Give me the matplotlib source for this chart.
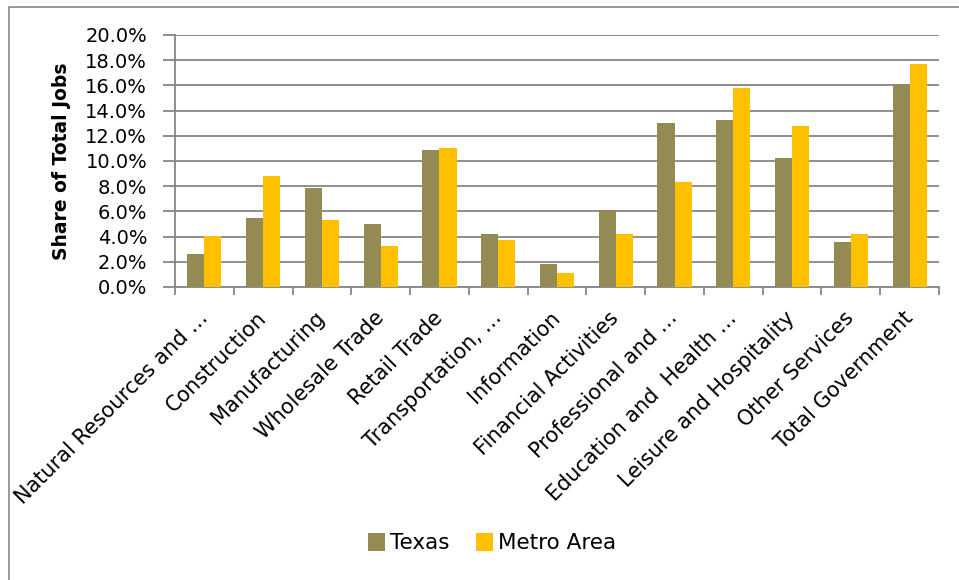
import numpy as np
import matplotlib
matplotlib.use('Agg')
import matplotlib.pyplot as plt
from matplotlib.patches import Rectangle

# ============================================================
# DATA (share of total jobs, %)
# ============================================================
categories = [
    "Natural Resources and \u2026", "Construction", "Manufacturing",
    "Wholesale Trade", "Retail Trade", "Transportation, \u2026",
    "Information", "Financial Activities", "Professional and \u2026",
    "Education and  Health \u2026", "Leisure and Hospitality",
    "Other Services", "Total Government",
]
texas = [2.6, 5.45, 7.85, 5.0, 10.85, 4.2, 1.8, 6.1, 13.05, 13.25, 10.25, 3.55, 16.1]
metro = [4.05, 8.8, 5.3, 3.25, 11.0, 3.7, 1.15, 4.2, 8.3, 15.8, 12.75, 4.2, 17.7]
series_names = ["Texas", "Metro Area"]
yticks = np.arange(0, 20.01, 2.0)

C_TEXAS = '#948A54'
C_METRO = '#FFC000'
C_GRID = '#868686'

plt.rcParams['font.family'] = 'DejaVu Sans'

fig = plt.figure(figsize=(9.59, 5.8), dpi=100)
ax = fig.add_axes([175/959, 1 - 287/580, (939 - 175)/959, (287 - 35)/580])

x = np.arange(len(categories))
w = 0.29
ax.bar(x - w/2, texas, width=w, color=C_TEXAS, label=series_names[0], zorder=3)
ax.bar(x + w/2, metro, width=w, color=C_METRO, label=series_names[1], zorder=3)

ax.set_xlim(-0.5, len(categories) - 0.5)
ax.set_ylim(0, 20)
ax.set_yticks(yticks)
ax.set_yticklabels([f"{v:.1f}%" for v in yticks], fontsize=14)
ax.yaxis.grid(True, color=C_GRID, linewidth=1.3, zorder=0)
ax.set_axisbelow(True)

# x ticks between categories, labels at centers
ax.set_xticks(np.arange(-0.5, len(categories), 1.0))
ax.set_xticklabels([])
ax.set_xticks(x, minor=True)
ax.set_xticklabels(categories, minor=True, rotation=45, ha='right', va='center',
                   rotation_mode='anchor', fontsize=15)
ax.tick_params(axis='x', which='minor', length=0, pad=20)
ax.tick_params(axis='x', which='major', length=6, color=C_GRID, width=1.3)
ax.tick_params(axis='y', length=9, color=C_GRID, width=1.3, pad=11)

for s in ['top', 'right']:
    ax.spines[s].set_visible(False)
for s in ['left', 'bottom']:
    ax.spines[s].set_color(C_GRID)
    ax.spines[s].set_linewidth(1.3)

ax.set_ylabel("Share of Total Jobs", fontsize=13.5, fontweight='bold', labelpad=10)

leg = fig.legend(loc='center', bbox_to_anchor=(492/959, 1 - 543/580), ncol=2,
                 frameon=False, fontsize=15.5, handlelength=0.8, handleheight=0.95,
                 handletextpad=0.25, columnspacing=1.2)

# outer chart border
fig.patches.append(Rectangle((9/959, -0.1), 1.1, 1 - 7/580 + 0.1,
                             transform=fig.transFigure, fill=False,
                             edgecolor=C_GRID, linewidth=1.2))

fig.savefig('out.png', dpi=100)
